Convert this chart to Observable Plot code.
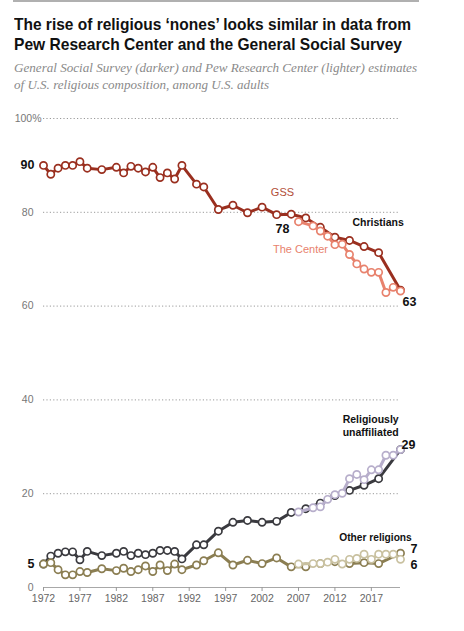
<!DOCTYPE html>
<html>
<head>
<meta charset="utf-8">
<script src="https://cdn.jsdelivr.net/npm/d3@7"></script>
<script src="https://cdn.jsdelivr.net/npm/@observablehq/plot@0.6"></script>
<style>
  html, body { margin: 0; padding: 0; background: #fff; }
  #wrap { width: 464px; height: 631px; overflow: hidden; }
  #head { height: 95px; }
  #bar { margin-left: 13px; width: 406px; height: 2px; background: #b0b0b0; }
  #title { margin: 13px 0 0 14px; font-family: "Liberation Sans", Arial, sans-serif; font-weight: bold; font-size: 17px; line-height: 20px; color: #111; white-space: nowrap; }
  #title span, #sub span { display: inline-block; transform-origin: 0 50%; }
  #sub { margin: 5px 0 0 14px; font-family: "Liberation Serif", "DejaVu Serif", serif; font-style: italic; font-size: 13.5px; line-height: 16.5px; color: #8a8a8a; white-space: nowrap; }
</style>
</head>
<body>
<div id="wrap">
  <div id="head">
    <div id="bar"></div>
    <div id="title"><span data-w="397">The rise of religious ‘nones’ looks similar in data from</span><br><span data-w="388">Pew Research Center and the General Social Survey</span></div>
    <div id="sub"><span data-w="403">General Social Survey (darker) and Pew Research Center (lighter) estimates</span><br><span data-w="255">of U.S. religious composition, among U.S. adults</span></div>
  </div>
  <div id="chart"></div>
</div>
<script>
// ---- Data ----
const gssYears = [1972,1973,1974,1975,1976,1977,1978,1980,1982,1983,1984,1985,1986,1987,1988,1989,1990,1991,1993,1994,1996,1998,2000,2002,2004,2006,2008,2010,2012,2014,2016,2018,2021];
const gssChristian = [90.0,88.1,89.4,90.0,90.0,90.8,89.4,89.1,89.6,88.4,89.8,89.4,88.6,89.6,87.4,88.4,87.1,90.0,86.0,85.4,80.6,81.5,79.9,81.1,79.5,79.6,78.8,76.8,74.7,74.0,72.7,71.4,63.4];
const gssUnaffiliated = [5.0,6.7,7.3,7.6,7.6,5.9,7.7,6.8,7.3,7.7,6.8,7.3,7.0,7.3,7.9,7.9,7.7,6.1,9.1,9.1,12.0,13.9,14.3,13.9,14.1,16.0,16.8,18.0,19.6,20.7,21.8,23.2,29.4];
const gssOther = [5.0,5.3,3.8,2.7,2.7,3.4,3.2,4.0,3.6,4.1,3.4,3.8,4.6,3.4,4.8,3.6,5.0,3.8,4.8,5.7,7.4,4.8,5.8,5.1,6.3,4.4,4.4,5.1,5.5,5.1,5.3,5.1,7.3];

const pewYears = [2007,2009,2010,2011,2012,2013,2014,2015,2016,2017,2018,2019,2020,2021];
const pewChristian = [78.0,77.1,76.0,74.9,73.1,73.2,71.0,69.0,67.9,67.2,67.2,62.9,64.0,63.2];
const pewUnaffiliated = [16.1,17.0,17.2,18.8,19.8,20.1,23.2,24.1,23.0,25.1,25.1,28.2,28.2,29.4];
const pewOther = [5.0,5.1,5.1,5.4,6.0,5.0,6.0,6.2,7.1,6.0,7.1,7.1,7.1,6.0];

const xTicks = [1972,1977,1982,1987,1992,1997,2002,2007,2012,2017];
const yTicks = [0,20,40,60,80];
const yTopTick = [100];

// fit header lines to the reference widths
document.querySelectorAll("[data-w]").forEach(el => {
  const w = el.getBoundingClientRect().width;
  const target = +el.dataset.w;
  if (w > 0) el.style.transform = `scaleX(${target / w})`;
});

// ---- Build tables ----
const toRows = (years, vals) => years.map((year, i) => ({year, value: vals[i]}));
const gssC = toRows(gssYears, gssChristian);
const gssU = toRows(gssYears, gssUnaffiliated);
const gssO = toRows(gssYears, gssOther);
const pewC = toRows(pewYears, pewChristian);
const pewU = toRows(pewYears, pewUnaffiliated);
const pewO = toRows(pewYears, pewOther);
const series = [
  {rows: gssC, color: "#9a2f1f"},
  {rows: gssU, color: "#3a3a3f"},
  {rows: gssO, color: "#8b7e52"},
  {rows: pewC, color: "#e8826d"},
  {rows: pewU, color: "#b7aecb"},
  {rows: pewO, color: "#c9c1a0"}
];

const lastOf = rows => [rows[rows.length - 1]];
const firstOf = rows => [rows[0]];

const labelFont = `"Liberation Sans", Arial, sans-serif`;

const marks = [
  Plot.ruleY([20,40,60,80,100], {stroke: "#9a9a9a", strokeDasharray: "1.2,2.2", strokeWidth: 1}),
  Plot.ruleY([0], {stroke: "#a8a8a8", strokeWidth: 1}),
  Plot.axisX(xTicks, {tickSize: 4, tickPadding: 3, tickFormat: d => String(d), fontSize: 10.5, color: "#666", stroke: "#999", label: null}),
  Plot.axisY(yTicks, {tickSize: 0, tickPadding: 10, fontSize: 10.5, color: "#777", label: null}),
  Plot.axisY(yTopTick, {tickSize: 0, tickPadding: 2, fontSize: 10.5, color: "#777", tickFormat: d => d + "%", label: null})
];
for (const s of series) {
  marks.push(Plot.line(s.rows, {x: "year", y: "value", stroke: s.color, strokeWidth: 3}));
  marks.push(Plot.dot(s.rows, {x: "year", y: "value", r: 3.6, fill: "white", stroke: s.color, strokeWidth: 1.7}));
}
// value labels
const bold = {fontWeight: "bold", fontSize: 12.5, fill: "#111", fontFamily: labelFont};
marks.push(Plot.text(firstOf(gssC), {x: "year", y: "value", text: d => Math.round(d.value), textAnchor: "end", dx: -9, ...bold}));
marks.push(Plot.text(firstOf(gssU), {x: "year", y: "value", text: d => Math.round(d.value), textAnchor: "end", dx: -9, ...bold}));
marks.push(Plot.text(firstOf(pewC), {x: "year", y: "value", text: d => Math.round(d.value), textAnchor: "middle", dx: -16, dy: 7, ...bold}));
marks.push(Plot.text(lastOf(gssC), {x: "year", y: "value", text: d => Math.round(d.value), textAnchor: "start", dx: 2, dy: 12, ...bold}));
marks.push(Plot.text(lastOf(gssU), {x: "year", y: "value", text: d => Math.floor(d.value), textAnchor: "start", dx: 1, dy: -5, ...bold}));
marks.push(Plot.text(lastOf(gssO), {x: "year", y: "value", text: d => Math.round(d.value), textAnchor: "start", dx: 10, dy: -4, ...bold}));
marks.push(Plot.text(lastOf(pewO), {x: "year", y: "value", text: d => Math.round(d.value), textAnchor: "start", dx: 10, dy: 6, ...bold}));
// series labels
marks.push(Plot.text(["GSS"], {x: () => 2004.8, y: () => 84.3, text: d => d, textAnchor: "middle", fill: "#b24e38", fontSize: 11, fontFamily: labelFont}));
marks.push(Plot.text(["The Center"], {x: () => 2003.5, y: () => 72.1, text: d => d, textAnchor: "start", fill: "#e8826d", fontSize: 11, fontFamily: labelFont}));
marks.push(Plot.text(["Christians"], {x: () => 2014.4, y: () => 77.9, text: d => d, textAnchor: "start", fill: "#111", fontWeight: "bold", fontSize: 10.5, fontFamily: labelFont}));
marks.push(Plot.text(["Religiously\nunaffiliated"], {x: () => 2016.9, y: () => 34.5, text: d => d, textAnchor: "middle", lineHeight: 1.25, fill: "#111", fontWeight: "bold", fontSize: 10.5, fontFamily: labelFont}));
marks.push(Plot.text(["Other religions"], {x: () => 2012.6, y: () => 10.7, text: d => d, textAnchor: "start", fill: "#111", fontWeight: "bold", fontSize: 10.2, fontFamily: labelFont}));

try {
  const chart = Plot.plot({
    width: 464,
    height: 536,
    marginTop: 23,
    marginBottom: 44,
    marginLeft: 43,
    marginRight: 64,
    x: {domain: [1972, 2021], label: null},
    y: {domain: [0, 100], label: null},
    style: {fontFamily: labelFont, background: "white", overflow: "visible"},
    marks
  });
  document.getElementById("chart").appendChild(chart);
} catch (e) {
  const p = document.createElement("pre");
  p.textContent = String(e && e.stack || e);
  document.getElementById("chart").appendChild(p);
}
</script>
</body>
</html>
